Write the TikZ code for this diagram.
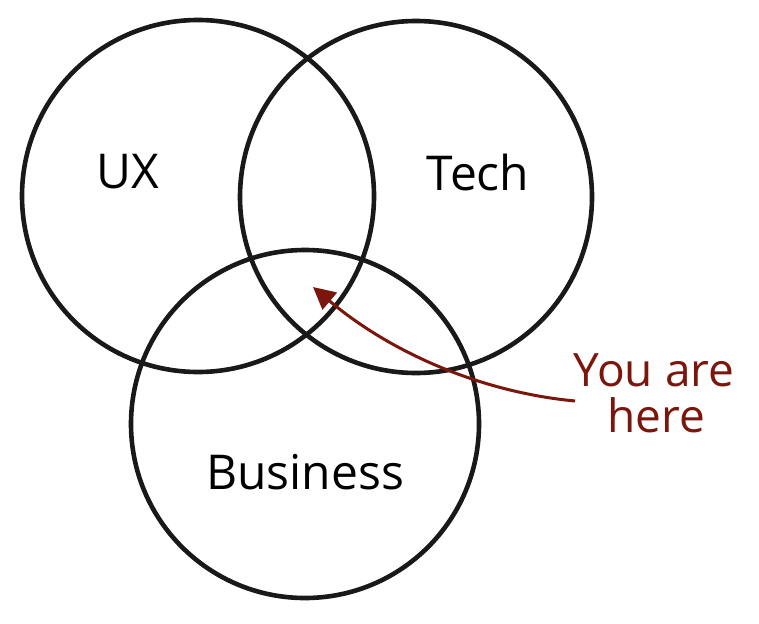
\documentclass[tikz,border=0pt]{standalone}
\usepackage{fontspec}
\setmainfont{Open Sans}
\usetikzlibrary{arrows.meta}
\definecolor{here}{RGB}{122,22,12}
\begin{document}
\begin{tikzpicture}[x=1pt,y=-1pt,
  ring/.style={draw=black!90,line width=4.6pt},
  lbl/.style={font=\fontsize{48}{54}\selectfont,inner sep=0pt},
  herelbl/.style={font=\fontsize{46}{52}\selectfont,inner sep=0pt,text=here,align=center}]
\useasboundingbox[fill=white] (0,0) rectangle (759,623);
\draw[ring] (198,196) circle[radius=176];
\draw[ring] (416,197) circle[radius=176];
\draw[ring] (305,424) circle[radius=174];
\node[lbl] (ux) at (128,172) {UX};
\node[lbl] (tech) at (478,172) {Tech};
\node[lbl] (bus) at (305,472) {Business};
\node[herelbl] (you) at (654,370) {You are};
\node[herelbl] (hr) at (656,415) {here};
\coordinate (tail) at (575,401);
\coordinate (tip) at (313,287);
\draw[here,line width=3pt,-{Triangle[length=22pt,width=22pt]}]
  (tail) .. controls (480,392) and (390,352) .. (tip);
\end{tikzpicture}
\end{document}
